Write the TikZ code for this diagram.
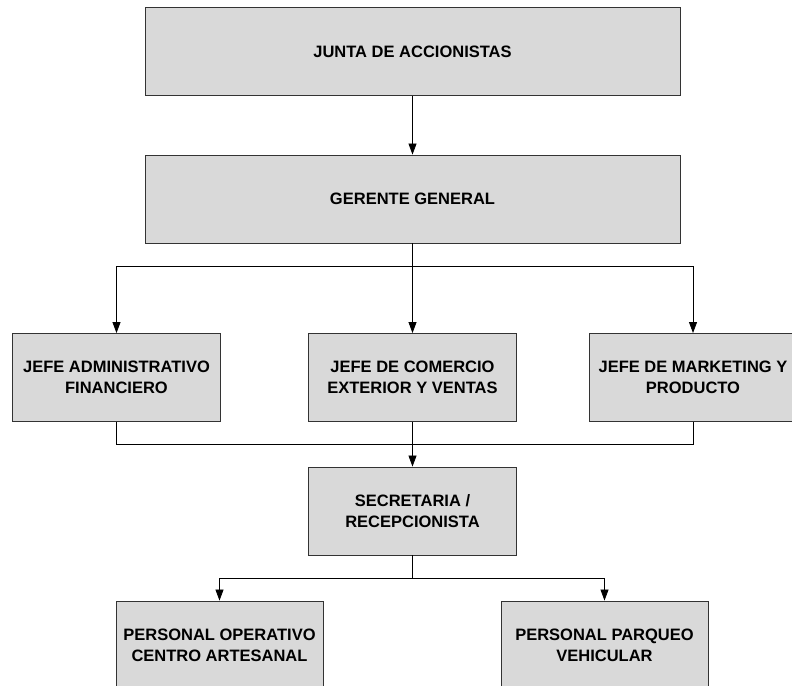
\documentclass[tikz,border=0pt]{standalone}
\usepackage{fontspec}
\setmainfont{Liberation Sans}
\usetikzlibrary{arrows.meta}
\begin{document}
\begin{tikzpicture}[x=1pt,y=-1pt,
  box/.style={draw=black!80, fill=black!15, line width=0.9pt, minimum width=#1, minimum height=88pt,
    align=center, font=\bfseries\fontsize{16.5}{21}\selectfont, inner sep=0pt},
  box/.default=208pt,
  conn/.style={draw=black, line width=0.8pt},
  arr/.style={conn, -{Triangle[length=11pt,width=8pt]}}]
\useasboundingbox (0,0) rectangle (792,685);
\clip (0,0) rectangle (792,685);
\node[box=535pt] (junta) at (412.5,51.5) {JUNTA DE ACCIONISTAS};
\node[box=535pt] (gerente) at (412.5,199) {GERENTE GENERAL};
\node[box] (jadm) at (116.5,377.5) {JEFE ADMINISTRATIVO\\FINANCIERO};
\node[box] (jcom) at (412.5,377.5) {JEFE DE COMERCIO\\EXTERIOR Y VENTAS};
\node[box] (jmkt) at (693,377.5) {JEFE DE MARKETING Y\\PRODUCTO};
\node[box] (sec) at (412.5,511) {SECRETARIA /\\RECEPCIONISTA};
\node[box=207pt] (pop) at (219.5,645) {PERSONAL OPERATIVO\\CENTRO ARTESANAL};
\node[box=207pt] (ppv) at (604.5,645) {PERSONAL PARQUEO\\VEHICULAR};
\coordinate (gbus) at (412.5,266);
\coordinate (jbus) at (412.5,444);
\coordinate (sbus) at (412.5,578);
\draw[arr] (junta.south) -- (gerente.north);
\draw[conn] (gerente.south) -- (gbus);
\draw[arr] (gbus) -| (jadm.north);
\draw[arr] (gbus) -| (jmkt.north);
\draw[arr] (gbus) -- (jcom.north);
\draw[conn] (jadm.south) |- (jbus);
\draw[conn] (jmkt.south) |- (jbus);
\draw[conn] (jcom.south) -- (jbus);
\draw[arr] (jbus) -- (sec.north);
\draw[conn] (sec.south) -- (sbus);
\draw[arr] (sbus) -| (pop.north);
\draw[arr] (sbus) -| (ppv.north);
\end{tikzpicture}
\end{document}
